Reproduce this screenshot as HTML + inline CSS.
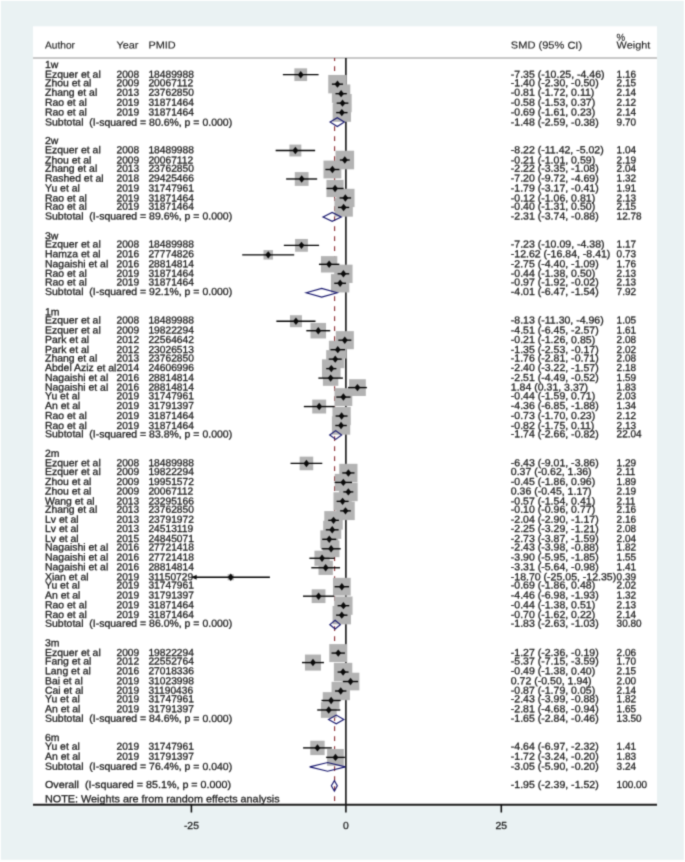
<!DOCTYPE html>
<html lang="en"><head><meta charset="utf-8"><title>Forest plot</title>
<style>
html,body{margin:0;padding:0;background:#ffffff;}
body{width:685px;height:862px;overflow:hidden;}
svg{display:block;}
text{font-family:"Liberation Sans",sans-serif;font-size:10.2px;fill:#1a1a1a;stroke:#1a1a1a;stroke-width:0.27px;white-space:pre;text-rendering:geometricPrecision;}
text.hd{stroke-width:0.12px;}
</style></head><body>
<svg width="685" height="862" viewBox="0 0 685 862" xml:space="preserve" role="img" aria-label="Forest plot of SMD with 95% CI by follow-up time">
<defs><filter id="soft" x="0" y="0" width="100%" height="100%" color-interpolation-filters="sRGB"><feConvolveMatrix order="5" kernelMatrix="0.0000 0.0004 0.0017 0.0004 0.0000 0.0004 0.0274 0.1099 0.0274 0.0004 0.0017 0.1099 0.4407 0.1099 0.0017 0.0004 0.0274 0.1099 0.0274 0.0004 0.0000 0.0004 0.0017 0.0004 0.0000" edgeMode="duplicate" preserveAlpha="true"/></filter></defs>
<g filter="url(#soft)">
<rect x="0" y="0" width="685" height="862" fill="#ffffff"/>
<rect x="0.9" y="0.9" width="682.9" height="858.9" fill="#eaf2f3"/>
<rect x="33" y="26.3" width="624" height="780" fill="#ffffff"/>
<line x1="33" y1="58.0" x2="657" y2="58.0" stroke="#b6b6b6" stroke-width="1.5"/>
<line x1="345.90" y1="58" x2="345.90" y2="812.5" stroke="#0a0a0a" stroke-width="1.55"/>
<line x1="334.60" y1="58" x2="334.60" y2="804" stroke="#8c2a2e" stroke-width="1.1" stroke-dasharray="4.9 5.1" stroke-dashoffset="1.8"/>
<g fill="#b3b3b3">
<rect x="294.39" y="68.32" width="12.72" height="12.72"/>
<rect x="328.26" y="74.96" width="18.41" height="18.41"/>
<rect x="331.92" y="84.47" width="18.36" height="18.36"/>
<rect x="333.39" y="94.00" width="18.26" height="18.26"/>
<rect x="332.66" y="103.43" width="18.36" height="18.36"/>
<rect x="289.44" y="144.59" width="11.89" height="11.89"/>
<rect x="335.50" y="150.72" width="18.61" height="18.61"/>
<rect x="323.48" y="160.58" width="17.85" height="17.85"/>
<rect x="294.79" y="172.10" width="13.77" height="13.77"/>
<rect x="326.47" y="179.88" width="17.18" height="17.18"/>
<rect x="336.21" y="188.79" width="18.31" height="18.31"/>
<rect x="334.43" y="198.23" width="18.41" height="18.41"/>
<rect x="295.09" y="238.96" width="12.79" height="12.79"/>
<rect x="263.50" y="250.10" width="9.47" height="9.47"/>
<rect x="320.95" y="256.14" width="16.37" height="16.37"/>
<rect x="334.23" y="264.65" width="18.31" height="18.31"/>
<rect x="330.96" y="274.13" width="18.31" height="18.31"/>
<rect x="289.96" y="315.23" width="11.96" height="11.96"/>
<rect x="310.51" y="322.93" width="15.53" height="15.53"/>
<rect x="335.78" y="331.15" width="18.06" height="18.06"/>
<rect x="328.90" y="340.78" width="17.75" height="17.75"/>
<rect x="326.21" y="350.11" width="18.06" height="18.06"/>
<rect x="322.01" y="359.35" width="18.56" height="18.56"/>
<rect x="322.91" y="370.40" width="15.41" height="15.41"/>
<rect x="349.08" y="379.21" width="16.75" height="16.75"/>
<rect x="334.48" y="388.17" width="17.80" height="17.80"/>
<rect x="312.25" y="399.60" width="13.90" height="13.90"/>
<rect x="332.47" y="406.91" width="18.26" height="18.26"/>
<rect x="331.89" y="416.36" width="18.31" height="18.31"/>
<rect x="299.64" y="456.65" width="13.58" height="13.58"/>
<rect x="339.28" y="463.82" width="18.21" height="18.21"/>
<rect x="334.79" y="473.87" width="17.07" height="17.07"/>
<rect x="339.02" y="482.59" width="18.61" height="18.61"/>
<rect x="333.48" y="492.27" width="18.21" height="18.21"/>
<rect x="336.25" y="501.63" width="18.46" height="18.46"/>
<rect x="324.28" y="511.11" width="18.46" height="18.46"/>
<rect x="323.19" y="520.79" width="18.06" height="18.06"/>
<rect x="320.33" y="530.37" width="17.85" height="17.85"/>
<rect x="322.76" y="540.43" width="16.70" height="16.70"/>
<rect x="314.45" y="550.68" width="15.18" height="15.18"/>
<rect x="318.51" y="560.58" width="14.34" height="14.34"/>
<rect x="227.66" y="574.17" width="6.12" height="6.12"/>
<rect x="332.97" y="577.83" width="17.75" height="17.75"/>
<rect x="311.69" y="589.30" width="13.77" height="13.77"/>
<rect x="334.23" y="596.52" width="18.31" height="18.31"/>
<rect x="332.60" y="605.98" width="18.36" height="18.36"/>
<rect x="329.29" y="644.11" width="17.95" height="17.95"/>
<rect x="304.95" y="654.55" width="16.04" height="16.04"/>
<rect x="333.87" y="662.84" width="18.41" height="18.41"/>
<rect x="341.72" y="672.71" width="17.65" height="17.65"/>
<rect x="331.55" y="681.83" width="18.36" height="18.36"/>
<rect x="322.76" y="692.15" width="16.70" height="16.70"/>
<rect x="320.89" y="702.10" width="15.75" height="15.75"/>
<rect x="310.30" y="740.74" width="14.34" height="14.34"/>
<rect x="327.11" y="749.01" width="16.75" height="16.75"/>
</g>
<g stroke="#000" stroke-width="1.35" fill="none">
<line x1="282.86" y1="74.68" x2="318.58" y2="74.68"/>
<line x1="331.91" y1="84.16" x2="343.02" y2="84.16"/>
<line x1="335.49" y1="93.65" x2="346.78" y2="93.65"/>
<line x1="336.66" y1="103.13" x2="348.38" y2="103.13"/>
<line x1="336.17" y1="112.61" x2="347.52" y2="112.61"/>
<line x1="275.64" y1="150.54" x2="315.13" y2="150.54"/>
<line x1="339.87" y1="160.02" x2="349.74" y2="160.02"/>
<line x1="325.43" y1="169.50" x2="339.44" y2="169.50"/>
<line x1="286.13" y1="178.98" x2="317.16" y2="178.98"/>
<line x1="326.54" y1="188.47" x2="343.57" y2="188.47"/>
<line x1="339.56" y1="197.95" x2="351.10" y2="197.95"/>
<line x1="338.02" y1="207.43" x2="349.19" y2="207.43"/>
<line x1="283.84" y1="245.36" x2="319.08" y2="245.36"/>
<line x1="242.20" y1="254.84" x2="294.21" y2="254.84"/>
<line x1="318.95" y1="264.32" x2="339.37" y2="264.32"/>
<line x1="337.59" y1="273.80" x2="349.19" y2="273.80"/>
<line x1="334.25" y1="283.29" x2="345.98" y2="283.29"/>
<line x1="276.38" y1="321.21" x2="315.50" y2="321.21"/>
<line x1="306.30" y1="330.70" x2="330.24" y2="330.70"/>
<line x1="338.33" y1="340.18" x2="351.34" y2="340.18"/>
<line x1="330.49" y1="349.66" x2="345.05" y2="349.66"/>
<line x1="328.76" y1="359.14" x2="341.72" y2="359.14"/>
<line x1="326.23" y1="368.62" x2="336.41" y2="368.62"/>
<line x1="318.40" y1="378.11" x2="342.89" y2="378.11"/>
<line x1="348.01" y1="387.59" x2="366.89" y2="387.59"/>
<line x1="336.29" y1="397.07" x2="350.48" y2="397.07"/>
<line x1="303.84" y1="406.55" x2="334.50" y2="406.55"/>
<line x1="335.61" y1="416.03" x2="347.52" y2="416.03"/>
<line x1="335.30" y1="425.52" x2="346.78" y2="425.52"/>
<line x1="290.51" y1="463.44" x2="322.28" y2="463.44"/>
<line x1="342.27" y1="472.93" x2="354.49" y2="472.93"/>
<line x1="334.62" y1="482.41" x2="352.02" y2="482.41"/>
<line x1="343.32" y1="491.89" x2="353.32" y2="491.89"/>
<line x1="336.60" y1="501.37" x2="348.63" y2="501.37"/>
<line x1="340.18" y1="510.85" x2="350.85" y2="510.85"/>
<line x1="328.21" y1="520.34" x2="338.88" y2="520.34"/>
<line x1="325.80" y1="529.82" x2="338.63" y2="529.82"/>
<line x1="322.22" y1="539.30" x2="336.29" y2="539.30"/>
<line x1="321.54" y1="548.78" x2="340.67" y2="548.78"/>
<line x1="309.39" y1="558.26" x2="334.69" y2="558.26"/>
<line x1="311.30" y1="567.75" x2="340.05" y2="567.75"/>
<line x1="192.15" y1="577.23" x2="269.90" y2="577.23"/>
<line x1="334.62" y1="586.71" x2="349.06" y2="586.71"/>
<line x1="303.03" y1="596.19" x2="334.19" y2="596.19"/>
<line x1="337.59" y1="605.67" x2="349.25" y2="605.67"/>
<line x1="336.10" y1="615.16" x2="347.46" y2="615.16"/>
<line x1="331.54" y1="653.08" x2="344.93" y2="653.08"/>
<line x1="301.98" y1="662.57" x2="323.95" y2="662.57"/>
<line x1="337.59" y1="672.05" x2="348.57" y2="672.05"/>
<line x1="343.02" y1="681.53" x2="358.07" y2="681.53"/>
<line x1="335.06" y1="691.01" x2="346.41" y2="691.01"/>
<line x1="321.48" y1="700.49" x2="340.67" y2="700.49"/>
<line x1="317.22" y1="709.98" x2="340.30" y2="709.98"/>
<line x1="303.10" y1="747.90" x2="331.79" y2="747.90"/>
<line x1="326.11" y1="757.39" x2="344.87" y2="757.39"/>
</g>
<g fill="#0a0a0a">
<path d="M297.85 74.68 L300.75 70.98 L303.65 74.68 L300.75 78.38 Z"/>
<path d="M334.56 84.16 L337.46 80.46 L340.36 84.16 L337.46 87.86 Z"/>
<path d="M338.20 93.65 L341.10 89.95 L344.00 93.65 L341.10 97.35 Z"/>
<path d="M339.62 103.13 L342.52 99.43 L345.42 103.13 L342.52 106.83 Z"/>
<path d="M338.94 112.61 L341.84 108.91 L344.74 112.61 L341.84 116.31 Z"/>
<path d="M292.48 150.54 L295.38 146.84 L298.28 150.54 L295.38 154.24 Z"/>
<path d="M341.90 160.02 L344.80 156.32 L347.70 160.02 L344.80 163.72 Z"/>
<path d="M329.50 169.50 L332.40 165.80 L335.30 169.50 L332.40 173.20 Z"/>
<path d="M298.78 178.98 L301.68 175.28 L304.58 178.98 L301.68 182.68 Z"/>
<path d="M332.16 188.47 L335.06 184.77 L337.96 188.47 L335.06 192.17 Z"/>
<path d="M342.46 197.95 L345.36 194.25 L348.26 197.95 L345.36 201.65 Z"/>
<path d="M340.73 207.43 L343.63 203.73 L346.53 207.43 L343.63 211.13 Z"/>
<path d="M298.59 245.36 L301.49 241.66 L304.39 245.36 L301.49 249.06 Z"/>
<path d="M265.33 254.84 L268.23 251.14 L271.13 254.84 L268.23 258.54 Z"/>
<path d="M326.23 264.32 L329.13 260.62 L332.03 264.32 L329.13 268.02 Z"/>
<path d="M340.49 273.80 L343.39 270.10 L346.29 273.80 L343.39 277.50 Z"/>
<path d="M337.22 283.29 L340.12 279.59 L343.02 283.29 L340.12 286.99 Z"/>
<path d="M293.04 321.21 L295.94 317.51 L298.84 321.21 L295.94 324.91 Z"/>
<path d="M315.37 330.70 L318.27 327.00 L321.17 330.70 L318.27 334.40 Z"/>
<path d="M341.90 340.18 L344.80 336.48 L347.70 340.18 L344.80 343.88 Z"/>
<path d="M334.87 349.66 L337.77 345.96 L340.67 349.66 L337.77 353.36 Z"/>
<path d="M332.34 359.14 L335.24 355.44 L338.14 359.14 L335.24 362.84 Z"/>
<path d="M328.39 368.62 L331.29 364.92 L334.19 368.62 L331.29 372.32 Z"/>
<path d="M327.71 378.11 L330.61 374.41 L333.51 378.11 L330.61 381.81 Z"/>
<path d="M354.55 387.59 L357.45 383.89 L360.35 387.59 L357.45 391.29 Z"/>
<path d="M340.49 397.07 L343.39 393.37 L346.29 397.07 L343.39 400.77 Z"/>
<path d="M316.30 406.55 L319.20 402.85 L322.10 406.55 L319.20 410.25 Z"/>
<path d="M338.70 416.03 L341.60 412.33 L344.50 416.03 L341.60 419.73 Z"/>
<path d="M338.14 425.52 L341.04 421.82 L343.94 425.52 L341.04 429.22 Z"/>
<path d="M303.53 463.44 L306.43 459.74 L309.33 463.44 L306.43 467.14 Z"/>
<path d="M345.48 472.93 L348.38 469.23 L351.28 472.93 L348.38 476.63 Z"/>
<path d="M340.42 482.41 L343.32 478.71 L346.22 482.41 L343.32 486.11 Z"/>
<path d="M345.42 491.89 L348.32 488.19 L351.22 491.89 L348.32 495.59 Z"/>
<path d="M339.68 501.37 L342.58 497.67 L345.48 501.37 L342.58 505.07 Z"/>
<path d="M342.58 510.85 L345.48 507.15 L348.38 510.85 L345.48 514.55 Z"/>
<path d="M330.61 520.34 L333.51 516.64 L336.41 520.34 L333.51 524.04 Z"/>
<path d="M329.32 529.82 L332.22 526.12 L335.12 529.82 L332.22 533.52 Z"/>
<path d="M326.36 539.30 L329.26 535.60 L332.16 539.30 L329.26 543.00 Z"/>
<path d="M328.21 548.78 L331.11 545.08 L334.01 548.78 L331.11 552.48 Z"/>
<path d="M319.14 558.26 L322.04 554.56 L324.94 558.26 L322.04 561.96 Z"/>
<path d="M322.78 567.75 L325.68 564.05 L328.58 567.75 L325.68 571.45 Z"/>
<path d="M191.65 577.23 L196.65 574.63 L196.65 579.83 Z"/>
<path d="M227.82 577.23 L230.72 573.53 L233.62 577.23 L230.72 580.93 Z"/>
<path d="M338.94 586.71 L341.84 583.01 L344.74 586.71 L341.84 590.41 Z"/>
<path d="M315.68 596.19 L318.58 592.49 L321.48 596.19 L318.58 599.89 Z"/>
<path d="M340.49 605.67 L343.39 601.97 L346.29 605.67 L343.39 609.37 Z"/>
<path d="M338.88 615.16 L341.78 611.46 L344.68 615.16 L341.78 618.86 Z"/>
<path d="M335.36 653.08 L338.26 649.38 L341.16 653.08 L338.26 656.78 Z"/>
<path d="M310.07 662.57 L312.97 658.87 L315.87 662.57 L312.97 666.27 Z"/>
<path d="M340.18 672.05 L343.08 668.35 L345.98 672.05 L343.08 675.75 Z"/>
<path d="M347.64 681.53 L350.54 677.83 L353.44 681.53 L350.54 685.23 Z"/>
<path d="M337.83 691.01 L340.73 687.31 L343.63 691.01 L340.73 694.71 Z"/>
<path d="M328.21 700.49 L331.11 696.79 L334.01 700.49 L331.11 704.19 Z"/>
<path d="M325.86 709.98 L328.76 706.28 L331.66 709.98 L328.76 713.68 Z"/>
<path d="M314.57 747.90 L317.47 744.20 L320.37 747.90 L317.47 751.60 Z"/>
<path d="M332.59 757.39 L335.49 753.69 L338.39 757.39 L335.49 761.09 Z"/>
</g>
<g stroke="#18186e" stroke-width="1.15" fill="none" stroke-linejoin="miter">
<path d="M330.12 122.09 L337.27 117.69 L344.36 122.09 L337.27 126.49 Z"/>
<path d="M323.02 216.91 L332.15 212.51 L341.27 216.91 L332.15 221.31 Z"/>
<path d="M306.18 292.77 L321.66 288.37 L337.20 292.77 L321.66 297.17 Z"/>
<path d="M329.69 435.00 L335.66 430.60 L341.64 435.00 L335.66 439.40 Z"/>
<path d="M329.87 624.64 L335.11 620.24 L340.34 624.64 L335.11 629.04 Z"/>
<path d="M328.58 719.46 L336.22 715.06 L343.86 719.46 L336.22 723.86 Z"/>
<path d="M309.70 766.87 L327.58 762.47 L345.47 766.87 L327.58 771.27 Z"/>
<path d="M331.35 785.83 L334.37 780.63 L337.32 785.83 L334.37 791.03 Z"/>
</g>
<line x1="33" y1="804.85" x2="657" y2="804.85" stroke="#1a1a1a" stroke-width="2.0"/>
<line x1="191.40" y1="804.8" x2="191.40" y2="812.5" stroke="#0a0a0a" stroke-width="1.55"/>
<line x1="501.30" y1="804.8" x2="501.30" y2="812.5" stroke="#0a0a0a" stroke-width="1.55"/>
<text transform="translate(191.40 828.95) scale(1.0196 1) skewY(0.03)" text-anchor="middle">-25</text>
<text transform="translate(345.90 828.95) scale(1.0196 1) skewY(0.03)" text-anchor="middle">0</text>
<text transform="translate(501.30 828.95) scale(1.0196 1) skewY(0.03)" text-anchor="middle">25</text>
<text transform="translate(45.00 48.60) scale(1.0000 1) skewY(0.03)" class="hd">Author</text>
<text transform="translate(116.50 48.60) scale(1.0686 1) skewY(0.03)" class="hd">Year</text>
<text transform="translate(148.50 48.60) scale(1.0686 1) skewY(0.03)" class="hd">PMID</text>
<text transform="translate(510.80 48.60) scale(1.0863 1) skewY(0.03)" class="hd">SMD (95% CI)</text>
<text transform="translate(616.60 40.85) scale(0.9608 1) skewY(0.03)" class="hd">%</text>
<text transform="translate(616.60 48.60) scale(1.0686 1) skewY(0.03)" class="hd">Weight</text>
<text transform="translate(45.00 67.95) scale(1.0245 1) skewY(0.03)">1w</text>
<text transform="translate(45.00 77.70) scale(1.0245 1) skewY(0.03)">Ezquer et al</text>
<text transform="translate(116.50 77.70) scale(1.0000 1) skewY(0.03)">2008</text>
<text transform="translate(148.40 77.70) scale(1.0049 1) skewY(0.03)">18489988</text>
<text transform="translate(510.80 77.70) scale(1.0343 1) skewY(0.03)">-7.35 (-10.25, -4.46)</text>
<text transform="translate(616.60 77.70) scale(0.9804 1) skewY(0.03)">1.16</text>
<text transform="translate(45.00 86.30) scale(1.0245 1) skewY(0.03)">Zhou et al</text>
<text transform="translate(116.50 86.30) scale(1.0000 1) skewY(0.03)">2009</text>
<text transform="translate(148.40 86.30) scale(1.0049 1) skewY(0.03)">20067112</text>
<text transform="translate(510.80 86.30) scale(1.0343 1) skewY(0.03)">-1.40 (-2.30, -0.50)</text>
<text transform="translate(616.60 86.30) scale(0.9804 1) skewY(0.03)">2.15</text>
<text transform="translate(45.00 95.80) scale(1.0245 1) skewY(0.03)">Zhang et al</text>
<text transform="translate(116.50 95.80) scale(1.0000 1) skewY(0.03)">2013</text>
<text transform="translate(148.40 95.80) scale(1.0049 1) skewY(0.03)">23762850</text>
<text transform="translate(510.80 95.80) scale(1.0343 1) skewY(0.03)">-0.81 (-1.72, 0.11)</text>
<text transform="translate(616.60 95.80) scale(0.9804 1) skewY(0.03)">2.14</text>
<text transform="translate(45.00 105.70) scale(1.0245 1) skewY(0.03)">Rao et al</text>
<text transform="translate(116.50 105.70) scale(1.0000 1) skewY(0.03)">2019</text>
<text transform="translate(148.40 105.70) scale(1.0049 1) skewY(0.03)">31871464</text>
<text transform="translate(510.80 105.70) scale(1.0343 1) skewY(0.03)">-0.58 (-1.53, 0.37)</text>
<text transform="translate(616.60 105.70) scale(0.9804 1) skewY(0.03)">2.12</text>
<text transform="translate(45.00 115.50) scale(1.0245 1) skewY(0.03)">Rao et al</text>
<text transform="translate(116.50 115.50) scale(1.0000 1) skewY(0.03)">2019</text>
<text transform="translate(148.40 115.50) scale(1.0049 1) skewY(0.03)">31871464</text>
<text transform="translate(510.80 115.50) scale(1.0343 1) skewY(0.03)">-0.69 (-1.61, 0.23)</text>
<text transform="translate(616.60 115.50) scale(0.9804 1) skewY(0.03)">2.14</text>
<text transform="translate(45.00 125.60) scale(1.0294 1) skewY(0.03)">Subtotal  (I-squared = 80.6%, p = 0.000)</text>
<text transform="translate(510.80 125.60) scale(1.0343 1) skewY(0.03)">-1.48 (-2.59, -0.38)</text>
<text transform="translate(616.60 125.60) scale(0.9804 1) skewY(0.03)">9.70</text>
<text transform="translate(45.00 144.05) scale(1.0245 1) skewY(0.03)">2w</text>
<text transform="translate(45.00 153.20) scale(1.0245 1) skewY(0.03)">Ezquer et al</text>
<text transform="translate(116.50 153.20) scale(1.0000 1) skewY(0.03)">2008</text>
<text transform="translate(148.40 153.20) scale(1.0049 1) skewY(0.03)">18489988</text>
<text transform="translate(510.80 153.20) scale(1.0343 1) skewY(0.03)">-8.22 (-11.42, -5.02)</text>
<text transform="translate(616.60 153.20) scale(0.9804 1) skewY(0.03)">1.04</text>
<text transform="translate(45.00 163.40) scale(1.0245 1) skewY(0.03)">Zhou et al</text>
<text transform="translate(116.50 163.40) scale(1.0000 1) skewY(0.03)">2009</text>
<text transform="translate(148.40 163.40) scale(1.0049 1) skewY(0.03)">20067112</text>
<text transform="translate(510.80 163.40) scale(1.0343 1) skewY(0.03)">-0.21 (-1.01, 0.59)</text>
<text transform="translate(616.60 163.40) scale(0.9804 1) skewY(0.03)">2.19</text>
<text transform="translate(45.00 171.70) scale(1.0245 1) skewY(0.03)">Zhang et al</text>
<text transform="translate(116.50 171.70) scale(1.0000 1) skewY(0.03)">2013</text>
<text transform="translate(148.40 171.70) scale(1.0049 1) skewY(0.03)">23762850</text>
<text transform="translate(510.80 171.70) scale(1.0343 1) skewY(0.03)">-2.22 (-3.35, -1.08)</text>
<text transform="translate(616.60 171.70) scale(0.9804 1) skewY(0.03)">2.04</text>
<text transform="translate(45.00 181.60) scale(1.0245 1) skewY(0.03)">Rashed et al</text>
<text transform="translate(116.50 181.60) scale(1.0000 1) skewY(0.03)">2018</text>
<text transform="translate(148.40 181.60) scale(1.0049 1) skewY(0.03)">29425466</text>
<text transform="translate(510.80 181.60) scale(1.0343 1) skewY(0.03)">-7.20 (-9.72, -4.69)</text>
<text transform="translate(616.60 181.60) scale(0.9804 1) skewY(0.03)">1.32</text>
<text transform="translate(45.00 191.40) scale(1.0245 1) skewY(0.03)">Yu et al</text>
<text transform="translate(116.50 191.40) scale(1.0000 1) skewY(0.03)">2019</text>
<text transform="translate(148.40 191.40) scale(1.0049 1) skewY(0.03)">31747961</text>
<text transform="translate(510.80 191.40) scale(1.0343 1) skewY(0.03)">-1.79 (-3.17, -0.41)</text>
<text transform="translate(616.60 191.40) scale(0.9804 1) skewY(0.03)">1.91</text>
<text transform="translate(45.00 201.40) scale(1.0245 1) skewY(0.03)">Rao et al</text>
<text transform="translate(116.50 201.40) scale(1.0000 1) skewY(0.03)">2019</text>
<text transform="translate(148.40 201.40) scale(1.0049 1) skewY(0.03)">31871464</text>
<text transform="translate(510.80 201.40) scale(1.0343 1) skewY(0.03)">-0.12 (-1.06, 0.81)</text>
<text transform="translate(616.60 201.40) scale(0.9804 1) skewY(0.03)">2.13</text>
<text transform="translate(45.00 209.65) scale(1.0245 1) skewY(0.03)">Rao et al</text>
<text transform="translate(116.50 209.65) scale(1.0000 1) skewY(0.03)">2019</text>
<text transform="translate(148.40 209.65) scale(1.0049 1) skewY(0.03)">31871464</text>
<text transform="translate(510.80 209.65) scale(1.0343 1) skewY(0.03)">-0.40 (-1.31, 0.50)</text>
<text transform="translate(616.60 209.65) scale(0.9804 1) skewY(0.03)">2.15</text>
<text transform="translate(45.00 219.40) scale(1.0294 1) skewY(0.03)">Subtotal  (I-squared = 89.6%, p = 0.000)</text>
<text transform="translate(510.80 219.40) scale(1.0343 1) skewY(0.03)">-2.31 (-3.74, -0.88)</text>
<text transform="translate(616.60 219.40) scale(0.9804 1) skewY(0.03)">12.78</text>
<text transform="translate(45.00 239.35) scale(1.0245 1) skewY(0.03)">3w</text>
<text transform="translate(45.00 247.40) scale(1.0245 1) skewY(0.03)">Ezquer et al</text>
<text transform="translate(116.50 247.40) scale(1.0000 1) skewY(0.03)">2008</text>
<text transform="translate(148.40 247.40) scale(1.0049 1) skewY(0.03)">18489988</text>
<text transform="translate(510.80 247.40) scale(1.0343 1) skewY(0.03)">-7.23 (-10.09, -4.38)</text>
<text transform="translate(616.60 247.40) scale(0.9804 1) skewY(0.03)">1.17</text>
<text transform="translate(45.00 257.30) scale(1.0245 1) skewY(0.03)">Hamza et al</text>
<text transform="translate(116.50 257.30) scale(1.0000 1) skewY(0.03)">2016</text>
<text transform="translate(148.40 257.30) scale(1.0049 1) skewY(0.03)">27774826</text>
<text transform="translate(510.80 257.30) scale(1.0343 1) skewY(0.03)">-12.62 (-16.84, -8.41)</text>
<text transform="translate(616.60 257.30) scale(0.9804 1) skewY(0.03)">0.73</text>
<text transform="translate(45.00 267.30) scale(1.0245 1) skewY(0.03)">Nagaishi et al</text>
<text transform="translate(116.50 267.30) scale(1.0000 1) skewY(0.03)">2016</text>
<text transform="translate(148.40 267.30) scale(1.0049 1) skewY(0.03)">28814814</text>
<text transform="translate(510.80 267.30) scale(1.0343 1) skewY(0.03)">-2.75 (-4.40, -1.09)</text>
<text transform="translate(616.60 267.30) scale(0.9804 1) skewY(0.03)">1.76</text>
<text transform="translate(45.00 276.80) scale(1.0245 1) skewY(0.03)">Rao et al</text>
<text transform="translate(116.50 276.80) scale(1.0000 1) skewY(0.03)">2019</text>
<text transform="translate(148.40 276.80) scale(1.0049 1) skewY(0.03)">31871464</text>
<text transform="translate(510.80 276.80) scale(1.0343 1) skewY(0.03)">-0.44 (-1.38, 0.50)</text>
<text transform="translate(616.60 276.80) scale(0.9804 1) skewY(0.03)">2.13</text>
<text transform="translate(45.00 285.40) scale(1.0245 1) skewY(0.03)">Rao et al</text>
<text transform="translate(116.50 285.40) scale(1.0000 1) skewY(0.03)">2019</text>
<text transform="translate(148.40 285.40) scale(1.0049 1) skewY(0.03)">31871464</text>
<text transform="translate(510.80 285.40) scale(1.0343 1) skewY(0.03)">-0.97 (-1.92, -0.02)</text>
<text transform="translate(616.60 285.40) scale(0.9804 1) skewY(0.03)">2.13</text>
<text transform="translate(45.00 295.00) scale(1.0294 1) skewY(0.03)">Subtotal  (I-squared = 92.1%, p = 0.000)</text>
<text transform="translate(510.80 295.00) scale(1.0343 1) skewY(0.03)">-4.01 (-6.47, -1.54)</text>
<text transform="translate(616.60 295.00) scale(0.9804 1) skewY(0.03)">7.92</text>
<text transform="translate(45.00 315.35) scale(1.0245 1) skewY(0.03)">1m</text>
<text transform="translate(45.00 323.55) scale(1.0245 1) skewY(0.03)">Ezquer et al</text>
<text transform="translate(116.50 323.55) scale(1.0000 1) skewY(0.03)">2008</text>
<text transform="translate(148.40 323.55) scale(1.0049 1) skewY(0.03)">18489988</text>
<text transform="translate(510.80 323.55) scale(1.0343 1) skewY(0.03)">-8.13 (-11.30, -4.96)</text>
<text transform="translate(616.60 323.55) scale(0.9804 1) skewY(0.03)">1.05</text>
<text transform="translate(45.00 333.50) scale(1.0245 1) skewY(0.03)">Ezquer et al</text>
<text transform="translate(116.50 333.50) scale(1.0000 1) skewY(0.03)">2009</text>
<text transform="translate(148.40 333.50) scale(1.0049 1) skewY(0.03)">19822294</text>
<text transform="translate(510.80 333.50) scale(1.0343 1) skewY(0.03)">-4.51 (-6.45, -2.57)</text>
<text transform="translate(616.60 333.50) scale(0.9804 1) skewY(0.03)">1.61</text>
<text transform="translate(45.00 343.10) scale(1.0245 1) skewY(0.03)">Park et al</text>
<text transform="translate(116.50 343.10) scale(1.0000 1) skewY(0.03)">2012</text>
<text transform="translate(148.40 343.10) scale(1.0049 1) skewY(0.03)">22564642</text>
<text transform="translate(510.80 343.10) scale(1.0343 1) skewY(0.03)">-0.21 (-1.26, 0.85)</text>
<text transform="translate(616.60 343.10) scale(0.9804 1) skewY(0.03)">2.08</text>
<text transform="translate(45.00 353.00) scale(1.0245 1) skewY(0.03)">Park et al</text>
<text transform="translate(116.50 353.00) scale(1.0000 1) skewY(0.03)">2012</text>
<text transform="translate(148.40 353.00) scale(1.0049 1) skewY(0.03)">23026513</text>
<text transform="translate(510.80 353.00) scale(1.0343 1) skewY(0.03)">-1.35 (-2.53, -0.17)</text>
<text transform="translate(616.60 353.00) scale(0.9804 1) skewY(0.03)">2.02</text>
<text transform="translate(45.00 361.50) scale(1.0245 1) skewY(0.03)">Zhang et al</text>
<text transform="translate(116.50 361.50) scale(1.0000 1) skewY(0.03)">2013</text>
<text transform="translate(148.40 361.50) scale(1.0049 1) skewY(0.03)">23762850</text>
<text transform="translate(510.80 361.50) scale(1.0343 1) skewY(0.03)">-1.76 (-2.81, -0.71)</text>
<text transform="translate(616.60 361.50) scale(0.9804 1) skewY(0.03)">2.08</text>
<text transform="translate(45.00 371.10) scale(1.0245 1) skewY(0.03)">Abdel Aziz et al</text>
<text transform="translate(116.50 371.10) scale(1.0000 1) skewY(0.03)">2014</text>
<text transform="translate(148.40 371.10) scale(1.0049 1) skewY(0.03)">24606996</text>
<text transform="translate(510.80 371.10) scale(1.0343 1) skewY(0.03)">-2.40 (-3.22, -1.57)</text>
<text transform="translate(616.60 371.10) scale(0.9804 1) skewY(0.03)">2.18</text>
<text transform="translate(45.00 380.90) scale(1.0245 1) skewY(0.03)">Nagaishi et al</text>
<text transform="translate(116.50 380.90) scale(1.0000 1) skewY(0.03)">2016</text>
<text transform="translate(148.40 380.90) scale(1.0049 1) skewY(0.03)">28814814</text>
<text transform="translate(510.80 380.90) scale(1.0343 1) skewY(0.03)">-2.51 (-4.49, -0.52)</text>
<text transform="translate(616.60 380.90) scale(0.9804 1) skewY(0.03)">1.59</text>
<text transform="translate(45.00 390.60) scale(1.0245 1) skewY(0.03)">Nagaishi et al</text>
<text transform="translate(116.50 390.60) scale(1.0000 1) skewY(0.03)">2016</text>
<text transform="translate(148.40 390.60) scale(1.0049 1) skewY(0.03)">28814814</text>
<text transform="translate(510.80 390.60) scale(1.0343 1) skewY(0.03)">1.84 (0.31, 3.37)</text>
<text transform="translate(616.60 390.60) scale(0.9804 1) skewY(0.03)">1.83</text>
<text transform="translate(45.00 399.20) scale(1.0245 1) skewY(0.03)">Yu et al</text>
<text transform="translate(116.50 399.20) scale(1.0000 1) skewY(0.03)">2019</text>
<text transform="translate(148.40 399.20) scale(1.0049 1) skewY(0.03)">31747961</text>
<text transform="translate(510.80 399.20) scale(1.0343 1) skewY(0.03)">-0.44 (-1.59, 0.71)</text>
<text transform="translate(616.60 399.20) scale(0.9804 1) skewY(0.03)">2.03</text>
<text transform="translate(45.00 409.00) scale(1.0245 1) skewY(0.03)">An et al</text>
<text transform="translate(116.50 409.00) scale(1.0000 1) skewY(0.03)">2019</text>
<text transform="translate(148.40 409.00) scale(1.0049 1) skewY(0.03)">31791397</text>
<text transform="translate(510.80 409.00) scale(1.0343 1) skewY(0.03)">-4.36 (-6.85, -1.88)</text>
<text transform="translate(616.60 409.00) scale(0.9804 1) skewY(0.03)">1.34</text>
<text transform="translate(45.00 419.00) scale(1.0245 1) skewY(0.03)">Rao et al</text>
<text transform="translate(116.50 419.00) scale(1.0000 1) skewY(0.03)">2019</text>
<text transform="translate(148.40 419.00) scale(1.0049 1) skewY(0.03)">31871464</text>
<text transform="translate(510.80 419.00) scale(1.0343 1) skewY(0.03)">-0.73 (-1.70, 0.23)</text>
<text transform="translate(616.60 419.00) scale(0.9804 1) skewY(0.03)">2.12</text>
<text transform="translate(45.00 428.90) scale(1.0245 1) skewY(0.03)">Rao et al</text>
<text transform="translate(116.50 428.90) scale(1.0000 1) skewY(0.03)">2019</text>
<text transform="translate(148.40 428.90) scale(1.0049 1) skewY(0.03)">31871464</text>
<text transform="translate(510.80 428.90) scale(1.0343 1) skewY(0.03)">-0.82 (-1.75, 0.11)</text>
<text transform="translate(616.60 428.90) scale(0.9804 1) skewY(0.03)">2.13</text>
<text transform="translate(45.00 437.35) scale(1.0294 1) skewY(0.03)">Subtotal  (I-squared = 83.8%, p = 0.000)</text>
<text transform="translate(510.80 437.35) scale(1.0343 1) skewY(0.03)">-1.74 (-2.66, -0.82)</text>
<text transform="translate(616.60 437.35) scale(0.9804 1) skewY(0.03)">22.04</text>
<text transform="translate(45.00 456.65) scale(1.0245 1) skewY(0.03)">2m</text>
<text transform="translate(45.00 466.30) scale(1.0245 1) skewY(0.03)">Ezquer et al</text>
<text transform="translate(116.50 466.30) scale(1.0000 1) skewY(0.03)">2008</text>
<text transform="translate(148.40 466.30) scale(1.0049 1) skewY(0.03)">18489988</text>
<text transform="translate(510.80 466.30) scale(1.0343 1) skewY(0.03)">-6.43 (-9.01, -3.86)</text>
<text transform="translate(616.60 466.30) scale(0.9804 1) skewY(0.03)">1.29</text>
<text transform="translate(45.00 474.95) scale(1.0245 1) skewY(0.03)">Ezquer et al</text>
<text transform="translate(116.50 474.95) scale(1.0000 1) skewY(0.03)">2009</text>
<text transform="translate(148.40 474.95) scale(1.0049 1) skewY(0.03)">19822294</text>
<text transform="translate(510.80 474.95) scale(1.0343 1) skewY(0.03)">0.37 (-0.62, 1.36)</text>
<text transform="translate(616.60 474.95) scale(0.9804 1) skewY(0.03)">2.11</text>
<text transform="translate(45.00 484.95) scale(1.0245 1) skewY(0.03)">Zhou et al</text>
<text transform="translate(116.50 484.95) scale(1.0000 1) skewY(0.03)">2009</text>
<text transform="translate(148.40 484.95) scale(1.0049 1) skewY(0.03)">19951572</text>
<text transform="translate(510.80 484.95) scale(1.0343 1) skewY(0.03)">-0.45 (-1.86, 0.96)</text>
<text transform="translate(616.60 484.95) scale(0.9804 1) skewY(0.03)">1.89</text>
<text transform="translate(45.00 494.60) scale(1.0245 1) skewY(0.03)">Zhou et al</text>
<text transform="translate(116.50 494.60) scale(1.0000 1) skewY(0.03)">2009</text>
<text transform="translate(148.40 494.60) scale(1.0049 1) skewY(0.03)">20067112</text>
<text transform="translate(510.80 494.60) scale(1.0343 1) skewY(0.03)">0.36 (-0.45, 1.17)</text>
<text transform="translate(616.60 494.60) scale(0.9804 1) skewY(0.03)">2.19</text>
<text transform="translate(45.00 504.45) scale(1.0245 1) skewY(0.03)">Wang et al</text>
<text transform="translate(116.50 504.45) scale(1.0000 1) skewY(0.03)">2013</text>
<text transform="translate(148.40 504.45) scale(1.0049 1) skewY(0.03)">23295166</text>
<text transform="translate(510.80 504.45) scale(1.0343 1) skewY(0.03)">-0.57 (-1.54, 0.41)</text>
<text transform="translate(616.60 504.45) scale(0.9804 1) skewY(0.03)">2.11</text>
<text transform="translate(45.00 512.75) scale(1.0245 1) skewY(0.03)">Zhang et al</text>
<text transform="translate(116.50 512.75) scale(1.0000 1) skewY(0.03)">2013</text>
<text transform="translate(148.40 512.75) scale(1.0049 1) skewY(0.03)">23762850</text>
<text transform="translate(510.80 512.75) scale(1.0343 1) skewY(0.03)">-0.10 (-0.96, 0.77)</text>
<text transform="translate(616.60 512.75) scale(0.9804 1) skewY(0.03)">2.16</text>
<text transform="translate(45.00 522.65) scale(1.0245 1) skewY(0.03)">Lv et al</text>
<text transform="translate(116.50 522.65) scale(1.0000 1) skewY(0.03)">2013</text>
<text transform="translate(148.40 522.65) scale(1.0049 1) skewY(0.03)">23791972</text>
<text transform="translate(510.80 522.65) scale(1.0343 1) skewY(0.03)">-2.04 (-2.90, -1.17)</text>
<text transform="translate(616.60 522.65) scale(0.9804 1) skewY(0.03)">2.16</text>
<text transform="translate(45.00 532.10) scale(1.0245 1) skewY(0.03)">Lv et al</text>
<text transform="translate(116.50 532.10) scale(1.0000 1) skewY(0.03)">2013</text>
<text transform="translate(148.40 532.10) scale(1.0049 1) skewY(0.03)">24513119</text>
<text transform="translate(510.80 532.10) scale(1.0343 1) skewY(0.03)">-2.25 (-3.29, -1.21)</text>
<text transform="translate(616.60 532.10) scale(0.9804 1) skewY(0.03)">2.08</text>
<text transform="translate(45.00 541.95) scale(1.0245 1) skewY(0.03)">Lv et al</text>
<text transform="translate(116.50 541.95) scale(1.0000 1) skewY(0.03)">2015</text>
<text transform="translate(148.40 541.95) scale(1.0049 1) skewY(0.03)">24845071</text>
<text transform="translate(510.80 541.95) scale(1.0343 1) skewY(0.03)">-2.73 (-3.87, -1.59)</text>
<text transform="translate(616.60 541.95) scale(0.9804 1) skewY(0.03)">2.04</text>
<text transform="translate(45.00 550.60) scale(1.0245 1) skewY(0.03)">Nagaishi et al</text>
<text transform="translate(116.50 550.60) scale(1.0000 1) skewY(0.03)">2016</text>
<text transform="translate(148.40 550.60) scale(1.0049 1) skewY(0.03)">27721418</text>
<text transform="translate(510.80 550.60) scale(1.0343 1) skewY(0.03)">-2.43 (-3.98, -0.88)</text>
<text transform="translate(616.60 550.60) scale(0.9804 1) skewY(0.03)">1.82</text>
<text transform="translate(45.00 560.40) scale(1.0245 1) skewY(0.03)">Nagaishi et al</text>
<text transform="translate(116.50 560.40) scale(1.0000 1) skewY(0.03)">2016</text>
<text transform="translate(148.40 560.40) scale(1.0049 1) skewY(0.03)">27721418</text>
<text transform="translate(510.80 560.40) scale(1.0343 1) skewY(0.03)">-3.90 (-5.95, -1.85)</text>
<text transform="translate(616.60 560.40) scale(0.9804 1) skewY(0.03)">1.55</text>
<text transform="translate(45.00 570.30) scale(1.0245 1) skewY(0.03)">Nagaishi et al</text>
<text transform="translate(116.50 570.30) scale(1.0000 1) skewY(0.03)">2016</text>
<text transform="translate(148.40 570.30) scale(1.0049 1) skewY(0.03)">28814814</text>
<text transform="translate(510.80 570.30) scale(1.0343 1) skewY(0.03)">-3.31 (-5.64, -0.98)</text>
<text transform="translate(616.60 570.30) scale(0.9804 1) skewY(0.03)">1.41</text>
<text transform="translate(45.00 580.25) scale(1.0245 1) skewY(0.03)">Xian et al</text>
<text transform="translate(116.50 580.25) scale(1.0000 1) skewY(0.03)">2019</text>
<text transform="translate(148.40 580.25) scale(1.0049 1) skewY(0.03)">31150729</text>
<text transform="translate(510.80 580.25) scale(1.0343 1) skewY(0.03)">-18.70 (-25.05, -12.35)</text>
<text transform="translate(616.60 580.25) scale(0.9804 1) skewY(0.03)">0.39</text>
<text transform="translate(45.00 588.55) scale(1.0245 1) skewY(0.03)">Yu et al</text>
<text transform="translate(116.50 588.55) scale(1.0000 1) skewY(0.03)">2019</text>
<text transform="translate(148.40 588.55) scale(1.0049 1) skewY(0.03)">31747961</text>
<text transform="translate(510.80 588.55) scale(1.0343 1) skewY(0.03)">-0.69 (-1.86, 0.48)</text>
<text transform="translate(616.60 588.55) scale(0.9804 1) skewY(0.03)">2.02</text>
<text transform="translate(45.00 598.55) scale(1.0245 1) skewY(0.03)">An et al</text>
<text transform="translate(116.50 598.55) scale(1.0000 1) skewY(0.03)">2019</text>
<text transform="translate(148.40 598.55) scale(1.0049 1) skewY(0.03)">31791397</text>
<text transform="translate(510.80 598.55) scale(1.0343 1) skewY(0.03)">-4.46 (-6.98, -1.93)</text>
<text transform="translate(616.60 598.55) scale(0.9804 1) skewY(0.03)">1.32</text>
<text transform="translate(45.00 608.20) scale(1.0245 1) skewY(0.03)">Rao et al</text>
<text transform="translate(116.50 608.20) scale(1.0000 1) skewY(0.03)">2019</text>
<text transform="translate(148.40 608.20) scale(1.0049 1) skewY(0.03)">31871464</text>
<text transform="translate(510.80 608.20) scale(1.0343 1) skewY(0.03)">-0.44 (-1.38, 0.51)</text>
<text transform="translate(616.60 608.20) scale(0.9804 1) skewY(0.03)">2.13</text>
<text transform="translate(45.00 618.00) scale(1.0245 1) skewY(0.03)">Rao et al</text>
<text transform="translate(116.50 618.00) scale(1.0000 1) skewY(0.03)">2019</text>
<text transform="translate(148.40 618.00) scale(1.0049 1) skewY(0.03)">31871464</text>
<text transform="translate(510.80 618.00) scale(1.0343 1) skewY(0.03)">-0.70 (-1.62, 0.22)</text>
<text transform="translate(616.60 618.00) scale(0.9804 1) skewY(0.03)">2.14</text>
<text transform="translate(45.00 626.70) scale(1.0294 1) skewY(0.03)">Subtotal  (I-squared = 86.0%, p = 0.000)</text>
<text transform="translate(510.80 626.70) scale(1.0343 1) skewY(0.03)">-1.83 (-2.63, -1.03)</text>
<text transform="translate(616.60 626.70) scale(0.9804 1) skewY(0.03)">30.80</text>
<text transform="translate(45.00 646.35) scale(1.0245 1) skewY(0.03)">3m</text>
<text transform="translate(45.00 655.95) scale(1.0245 1) skewY(0.03)">Ezquer et al</text>
<text transform="translate(116.50 655.95) scale(1.0000 1) skewY(0.03)">2009</text>
<text transform="translate(148.40 655.95) scale(1.0049 1) skewY(0.03)">19822294</text>
<text transform="translate(510.80 655.95) scale(1.0343 1) skewY(0.03)">-1.27 (-2.36, -0.19)</text>
<text transform="translate(616.60 655.95) scale(0.9804 1) skewY(0.03)">2.06</text>
<text transform="translate(45.00 664.50) scale(1.0245 1) skewY(0.03)">Fang et al</text>
<text transform="translate(116.50 664.50) scale(1.0000 1) skewY(0.03)">2012</text>
<text transform="translate(148.40 664.50) scale(1.0049 1) skewY(0.03)">22552764</text>
<text transform="translate(510.80 664.50) scale(1.0343 1) skewY(0.03)">-5.37 (-7.15, -3.59)</text>
<text transform="translate(616.60 664.50) scale(0.9804 1) skewY(0.03)">1.70</text>
<text transform="translate(45.00 674.35) scale(1.0245 1) skewY(0.03)">Lang et al</text>
<text transform="translate(116.50 674.35) scale(1.0000 1) skewY(0.03)">2016</text>
<text transform="translate(148.40 674.35) scale(1.0049 1) skewY(0.03)">27018336</text>
<text transform="translate(510.80 674.35) scale(1.0343 1) skewY(0.03)">-0.49 (-1.38, 0.40)</text>
<text transform="translate(616.60 674.35) scale(0.9804 1) skewY(0.03)">2.15</text>
<text transform="translate(45.00 684.20) scale(1.0245 1) skewY(0.03)">Bai et al</text>
<text transform="translate(116.50 684.20) scale(1.0000 1) skewY(0.03)">2019</text>
<text transform="translate(148.40 684.20) scale(1.0049 1) skewY(0.03)">31023998</text>
<text transform="translate(510.80 684.20) scale(1.0343 1) skewY(0.03)">0.72 (-0.50, 1.94)</text>
<text transform="translate(616.60 684.20) scale(0.9804 1) skewY(0.03)">2.00</text>
<text transform="translate(45.00 693.80) scale(1.0245 1) skewY(0.03)">Cai et al</text>
<text transform="translate(116.50 693.80) scale(1.0000 1) skewY(0.03)">2019</text>
<text transform="translate(148.40 693.80) scale(1.0049 1) skewY(0.03)">31190436</text>
<text transform="translate(510.80 693.80) scale(1.0343 1) skewY(0.03)">-0.87 (-1.79, 0.05)</text>
<text transform="translate(616.60 693.80) scale(0.9804 1) skewY(0.03)">2.14</text>
<text transform="translate(45.00 702.30) scale(1.0245 1) skewY(0.03)">Yu et al</text>
<text transform="translate(116.50 702.30) scale(1.0000 1) skewY(0.03)">2019</text>
<text transform="translate(148.40 702.30) scale(1.0049 1) skewY(0.03)">31747961</text>
<text transform="translate(510.80 702.30) scale(1.0343 1) skewY(0.03)">-2.43 (-3.99, -0.88)</text>
<text transform="translate(616.60 702.30) scale(0.9804 1) skewY(0.03)">1.82</text>
<text transform="translate(45.00 712.20) scale(1.0245 1) skewY(0.03)">An et al</text>
<text transform="translate(116.50 712.20) scale(1.0000 1) skewY(0.03)">2019</text>
<text transform="translate(148.40 712.20) scale(1.0049 1) skewY(0.03)">31791397</text>
<text transform="translate(510.80 712.20) scale(1.0343 1) skewY(0.03)">-2.81 (-4.68, -0.94)</text>
<text transform="translate(616.60 712.20) scale(0.9804 1) skewY(0.03)">1.65</text>
<text transform="translate(45.00 721.80) scale(1.0294 1) skewY(0.03)">Subtotal  (I-squared = 84.6%, p = 0.000)</text>
<text transform="translate(510.80 721.80) scale(1.0343 1) skewY(0.03)">-1.65 (-2.84, -0.46)</text>
<text transform="translate(616.60 721.80) scale(0.9804 1) skewY(0.03)">13.50</text>
<text transform="translate(45.00 740.95) scale(1.0245 1) skewY(0.03)">6m</text>
<text transform="translate(45.00 749.75) scale(1.0245 1) skewY(0.03)">Yu et al</text>
<text transform="translate(116.50 749.75) scale(1.0000 1) skewY(0.03)">2019</text>
<text transform="translate(148.40 749.75) scale(1.0049 1) skewY(0.03)">31747961</text>
<text transform="translate(510.80 749.75) scale(1.0343 1) skewY(0.03)">-4.64 (-6.97, -2.32)</text>
<text transform="translate(616.60 749.75) scale(0.9804 1) skewY(0.03)">1.41</text>
<text transform="translate(45.00 759.75) scale(1.0245 1) skewY(0.03)">An et al</text>
<text transform="translate(116.50 759.75) scale(1.0000 1) skewY(0.03)">2019</text>
<text transform="translate(148.40 759.75) scale(1.0049 1) skewY(0.03)">31791397</text>
<text transform="translate(510.80 759.75) scale(1.0343 1) skewY(0.03)">-1.72 (-3.24, -0.20)</text>
<text transform="translate(616.60 759.75) scale(0.9804 1) skewY(0.03)">1.83</text>
<text transform="translate(45.00 769.80) scale(1.0294 1) skewY(0.03)">Subtotal  (I-squared = 76.4%, p = 0.040)</text>
<text transform="translate(510.80 769.80) scale(1.0343 1) skewY(0.03)">-3.05 (-5.90, -0.20)</text>
<text transform="translate(616.60 769.80) scale(0.9804 1) skewY(0.03)">3.24</text>
<text transform="translate(45.00 787.90) scale(1.0529 1) skewY(0.03)">Overall  (I-squared = 85.1%, p = 0.000)</text>
<text transform="translate(510.80 787.90) scale(1.0343 1) skewY(0.03)">-1.95 (-2.39, -1.52)</text>
<text transform="translate(616.60 787.90) scale(0.9804 1) skewY(0.03)">100.00</text>
<text transform="translate(45.00 802.15) scale(1.0618 1) skewY(0.03)">NOTE: Weights are from random effects analysis</text>
</g>
</svg>
</body></html>
